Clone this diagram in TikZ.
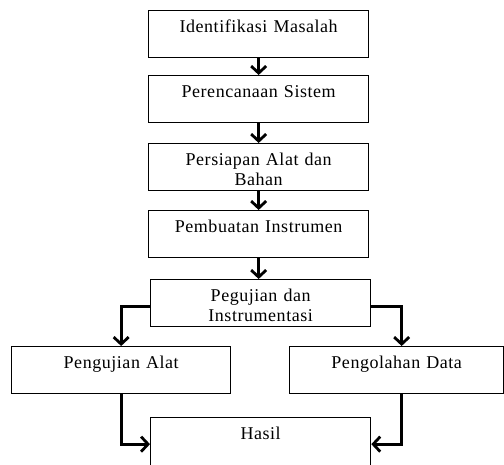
\documentclass[tikz,border=0pt]{standalone}
\usepackage{fontspec}
\setmainfont{Liberation Serif}[LetterSpace=3]
\usetikzlibrary{arrows.meta}

\begin{document}
\begin{tikzpicture}[x=1pt,y=-1pt]
\tikzstyle{every node}=[font=\fontsize{18}{20}\selectfont]
\tikzstyle{box}=[draw, line width=1.3pt, anchor=north west, inner sep=0pt,
  text width=220pt, align=center, text height=22pt, text depth=25pt]
\tikzstyle{arr}=[line width=2.8pt, -{Straight Barb[length=7pt,width=15pt,line width=2.8pt]}]

% page size
\useasboundingbox (0,0) rectangle (504,464);

% the steps
\node[box] (ident) at (148,10) {Identifikasi Masalah};
\node[box] (renc) at (148,75) {Perencanaan Sistem};
\node[box] (siap) at (148,143) {Persiapan Alat dan\\Bahan};
\node[box] (buat) at (148,210) {Pembuatan Instrumen};
\node[box] (uji) at (150,279) {Pegujian dan\\Instrumentasi};
\node[box, text width=219pt] (alat) at (11,346) {Pengujian Alat};
\node[box, text width=214pt] (olah) at (289,346) {Pengolahan Data};
\node[box, text depth=28pt] (hasil) at (150,417) {Hasil};

% arrows down the middle
\draw[arr] (ident) -- (renc);
\draw[arr] (renc) -- (siap);
\draw[arr] (siap) -- (buat);
\draw[arr] (buat.south) -- (buat.south |- uji.north);

% split and join
\draw[arr] ([yshift=-3pt]uji.west) -| (alat.north);
\draw[arr] ([yshift=-3pt]uji.east) -| ([xshift=5pt]olah.north);
\draw[arr] (alat.south) |- ([yshift=-1.5pt]hasil.west);
\draw[arr] ([xshift=5pt]olah.south) |- ([yshift=-1.5pt]hasil.east);

\end{tikzpicture}
\end{document}
